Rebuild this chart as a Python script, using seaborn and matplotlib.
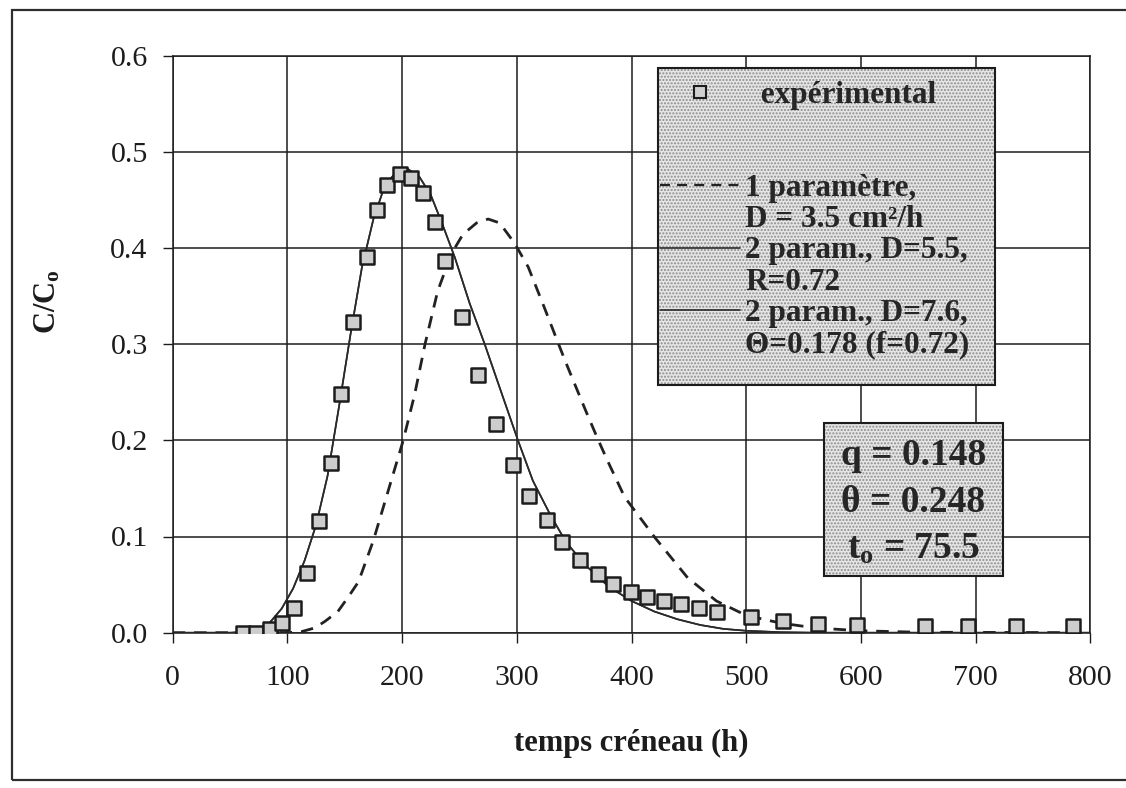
import matplotlib
matplotlib.use("Agg")
import matplotlib.pyplot as plt
import numpy as np
import pandas as pd
import seaborn as sns
from matplotlib.lines import Line2D
from matplotlib.patches import Rectangle

# ---------------- data ----------------
exp_t = [61.7, 72.8, 85, 95.7, 106, 116.8, 127.8, 137.7, 146.7, 156.8,
         169, 177.7, 187.2, 198, 208, 218.3, 228.4, 237.7, 252.2, 266,
         281.5, 297, 310.4, 326.3, 339.4, 354.9, 371, 383.5, 399.7, 413.9,
         428.5, 443.4, 459, 474.4, 504, 532.5, 563, 596.2, 656.2, 693,
         735.3, 785]
exp_c = [0.000, 0.000, 0.004, 0.010, 0.026, 0.062, 0.116, 0.176, 0.248, 0.323,
         0.391, 0.439, 0.465, 0.477, 0.473, 0.457, 0.427, 0.386, 0.328, 0.268,
         0.217, 0.174, 0.142, 0.117, 0.094, 0.076, 0.061, 0.051, 0.042, 0.037,
         0.033, 0.030, 0.026, 0.022, 0.016, 0.012, 0.009, 0.008, 0.007, 0.007,
         0.007, 0.007]

# 1 parameter model (dashed)
one_t = [0, 100, 112, 124, 133, 144, 153, 162, 175, 188, 201, 211, 220, 231,
         243, 253, 265, 275, 285, 298, 310, 324, 342, 360, 370, 379, 394, 421,
         449, 474, 500, 530, 560, 600, 650, 800]
one_c = [0, 0, 0.001, 0.005, 0.012, 0.022, 0.037, 0.053, 0.096, 0.148, 0.200,
         0.248, 0.300, 0.355, 0.394, 0.414, 0.426, 0.430, 0.426, 0.405, 0.380,
         0.338, 0.283, 0.231, 0.203, 0.179, 0.141, 0.098, 0.057, 0.033, 0.018,
         0.010, 0.005, 0.002, 0.0005, 0]

# 2 parameter model D=5.5, R=0.72 (solid)
two_r_t = [0, 50, 65, 75, 85, 95, 105, 115, 125, 135, 145, 155, 165, 175, 185,
           195, 205, 215, 225, 235, 246, 259, 272, 285, 301, 314, 329, 343, 360,
           380, 400, 420, 440, 460, 480, 500, 530, 560, 800]
two_r_c = [0, 0, 0.001, 0.004, 0.011, 0.025, 0.046, 0.075, 0.112, 0.163, 0.235,
           0.310, 0.380, 0.430, 0.465, 0.479, 0.482, 0.474, 0.455, 0.425, 0.390,
           0.342, 0.300, 0.255, 0.200, 0.158, 0.123, 0.094, 0.070, 0.048, 0.033,
           0.022, 0.014, 0.008, 0.004, 0.002, 0.0005, 0, 0]

# 2 parameter model D=7.6, theta=0.178 (solid, overlaps the previous one)
two_th_t = [0, 50, 65, 75, 85, 95, 105, 115, 125, 135, 145, 155, 165, 175, 185,
            195, 205, 215, 225, 235, 246, 259, 272, 285, 301, 314, 329, 343, 360,
            380, 400, 420, 440, 460, 480, 500, 530, 560, 800]
two_th_c = [0, 0, 0.001, 0.004, 0.011, 0.025, 0.046, 0.075, 0.112, 0.163, 0.235,
            0.310, 0.380, 0.430, 0.465, 0.479, 0.482, 0.474, 0.455, 0.425, 0.390,
            0.342, 0.300, 0.255, 0.200, 0.158, 0.123, 0.094, 0.070, 0.048, 0.033,
            0.022, 0.014, 0.008, 0.004, 0.002, 0.0005, 0, 0]

x_ticks = [0, 100, 200, 300, 400, 500, 600, 700, 800]
y_ticks = [0.0, 0.1, 0.2, 0.3, 0.4, 0.5, 0.6]

leg_labels = ["  expérimental", " ", " ", "1 paramètre,", "D = 3.5 cm²/h",
              "2 param., D=5.5,", "R=0.72", "2 param., D=7.6,", "Θ=0.178 (f=0.72)"]
box_lines = ["q = 0.148", "θ = 0.248", "t$_{\\mathbf{o}}$ = 75.5"]

# ---------------- style ----------------
sns.set_theme(style="white")
plt.rcParams["font.family"] = ["Liberation Serif", "DejaVu Serif"]
plt.rcParams["mathtext.fontset"] = "custom"
plt.rcParams["mathtext.rm"] = "Liberation Serif"
plt.rcParams["mathtext.bf"] = "Liberation Serif:bold"
plt.rcParams["mathtext.it"] = "Liberation Serif:italic"

INK = "#1c1c1c"
STIP = (0.55, 0.55, 0.55, 1.0)
DASH = (0, (4.5, 3.2))
fig = plt.figure(figsize=(11.26, 7.88), dpi=100)
fig.patch.set_facecolor("white")
ax = fig.add_axes([172.7 / 1126, 1 - 632.7 / 788,
                   (1090.3 - 172.7) / 1126, (632.7 - 55.5) / 788])

df_exp = pd.DataFrame({"t": exp_t, "c": exp_c})
df_one = pd.DataFrame({"t": one_t, "c": one_c})
df_r = pd.DataFrame({"t": two_r_t, "c": two_r_c})
df_th = pd.DataFrame({"t": two_th_t, "c": two_th_c})

sns.lineplot(data=df_r, x="t", y="c", ax=ax, color="#2a2a2a", linewidth=1.2,
             sort=False, zorder=3)
sns.lineplot(data=df_th, x="t", y="c", ax=ax, color="#2a2a2a", linewidth=1.2,
             sort=False, zorder=3)
sns.lineplot(data=df_one, x="t", y="c", ax=ax, color="#222222", linewidth=2.0,
             linestyle=DASH, sort=False, zorder=3)
sns.scatterplot(data=df_exp, x="t", y="c", ax=ax, marker="s", s=100,
                color="#cdcdcd", edgecolor=INK, linewidth=1.8, zorder=5,
                legend=False)

ax.set_xlim(0, 800)
ax.set_ylim(0, 0.6)
ax.set_xticks(x_ticks)
ax.set_yticks(y_ticks)
ax.set_xticklabels([str(v) for v in x_ticks])
ax.set_yticklabels([f"{v:.1f}" for v in y_ticks])
ax.grid(True, color=INK, linewidth=1.1)
ax.set_axisbelow(True)
for sp in ax.spines.values():
    sp.set_color(INK)
    sp.set_linewidth(1.1)
ax.tick_params(axis="both", direction="out", length=7, width=1.0, color=INK,
               labelsize=21.5, labelcolor=INK)
ax.tick_params(axis="x", pad=16, bottom=True)
ax.tick_params(axis="y", pad=11, left=True)

ax.set_xlabel("temps créneau (h)", fontsize=22, fontweight="bold", color=INK)
ax.set_ylabel("C/C$_{\\mathbf{o}}$", fontsize=22, fontweight="bold", color=INK)
ax.xaxis.set_label_coords(0.50, -0.166)
ax.yaxis.set_label_coords(-0.120, 0.573)

# ---------------- legend ----------------
lx0 = (658 - 172.7) / 917.6
ly0 = (632.7 - 385) / 577.2
lw_ = (995 - 658) / 917.6
lh_ = (385 - 68) / 577.2
lrect = Rectangle((lx0, ly0), lw_, lh_, transform=ax.transAxes,
                  facecolor="#e6e6e6", edgecolor=INK, linewidth=1.5,
                  hatch=".....", zorder=9)
lrect._hatch_color = STIP
ax.add_patch(lrect)

blank = Line2D([], [], linestyle="none")
handles = [
    Line2D([], [], marker="s", linestyle="none", markersize=8,
           markerfacecolor="#d0d0d0", markeredgecolor=INK, markeredgewidth=1.5),
    blank, blank,
    Line2D([], [], color="#222222", linewidth=1.6, linestyle=DASH),
    blank,
    Line2D([], [], color="#2a2a2a", linewidth=1.2),
    blank,
    Line2D([], [], color="#2a2a2a", linewidth=1.2),
    blank,
]
top_px = 78
leg = ax.legend(handles, leg_labels, loc="upper left",
                bbox_to_anchor=(lx0, (632.7 - 380) / 577.2, lw_,
                                (380 - top_px) / 577.2),
                mode="expand",
                prop={"family": ["Liberation Serif"], "weight": "bold", "size": 22.5},
                handlelength=2.56, handletextpad=0.16, labelspacing=0.07,
                borderpad=0.08, borderaxespad=0.0, frameon=False)
for t in leg.get_texts():
    t.set_color("#262626")
leg.set_zorder(10)

# ---------------- parameter box ----------------
bx0 = (824 - 172.7) / 917.6
by0 = (632.7 - 576) / 577.2
bw = (1003 - 824) / 917.6
bh = (576 - 423) / 577.2
rect = Rectangle((bx0, by0), bw, bh, transform=ax.transAxes, facecolor="#e6e6e6",
                 edgecolor=INK, linewidth=1.5, hatch=".....", zorder=9)
rect._hatch_color = STIP
ax.add_patch(rect)
ax.text(bx0 + bw / 2, by0 + bh / 2 - 0.005, "\n".join(box_lines),
        transform=ax.transAxes, ha="center", va="center",
        multialignment="center", fontsize=27, fontweight="bold",
        color="#262626", linespacing=1.45, zorder=11)

# ---------------- outer frame ----------------
fig.add_artist(Rectangle((12 / 1126, 1 - 780 / 788), 1.2, (780 - 10) / 788,
                         transform=fig.transFigure, fill=False,
                         edgecolor="#2e2e2e", linewidth=1.6))

fig.savefig("out.png", dpi=100)
